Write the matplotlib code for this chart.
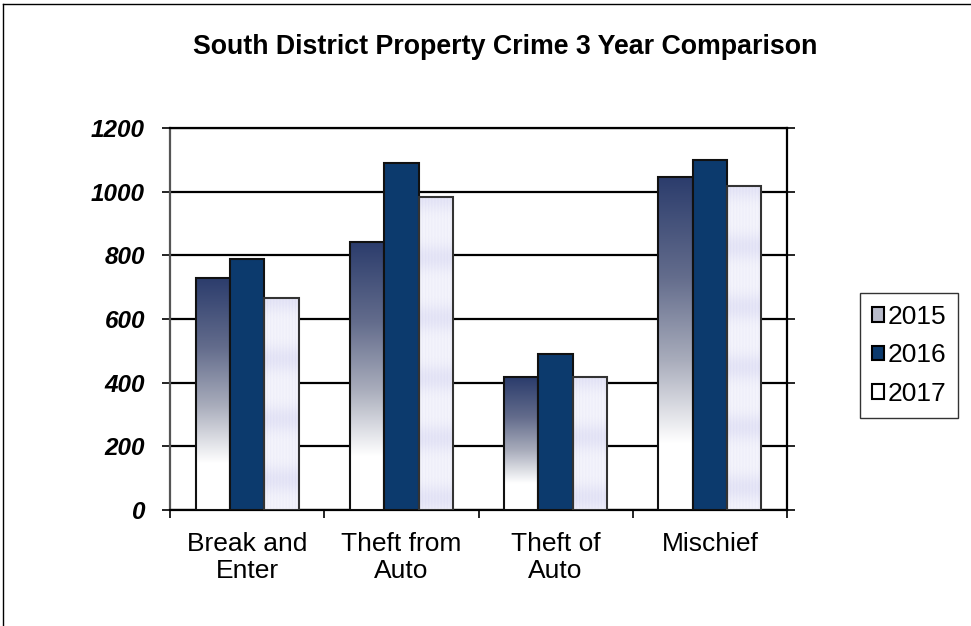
import numpy as np
import matplotlib
matplotlib.use("Agg")
import matplotlib.pyplot as plt
from matplotlib.colors import LinearSegmentedColormap
from matplotlib.patches import Patch
from matplotlib.lines import Line2D

plt.rcParams['font.family'] = ['Liberation Sans', 'DejaVu Sans']

# data
categories = ['Break and\nEnter', 'Theft from\nAuto', 'Theft of\nAuto', 'Mischief']
years = ['2015', '2016', '2017']
vals_2015 = [729, 843, 417, 1047]
vals_2016 = [790, 1091, 490, 1100]
vals_2017 = [665, 982, 419, 1017]
y_ticks = [0, 200, 400, 600, 800, 1000, 1200]

fig = plt.figure(figsize=(9.71, 6.26), dpi=100)
ax = fig.add_axes([170/971, 1 - 510/626, 617/971, 382/626])

x = np.arange(len(categories))
w = 0.2225

grad_cmap = LinearSegmentedColormap.from_list(
    'g15', [(0, '#2b3c6c'), (0.3, '#636c8c'), (0.55, '#a8acbb'),
            (0.8, '#ffffff'), (1, '#ffffff')])


def texture(nrows, ncols):
    # light lavender pinstripe / banded fill like the 2017 bars
    yy = np.arange(nrows).reshape(-1, 1)
    xx = np.arange(ncols).reshape(1, -1)
    stripes = 0.5 + 0.5 * np.cos(2 * np.pi * xx / 3.0)
    bands = 0.5 + 0.5 * np.cos(2 * np.pi * yy / 60.0)
    k = 0.08 + 0.07 * stripes + 0.12 * bands ** 2
    base = np.array([1.0, 1.0, 1.0])
    lav = np.array([0.55, 0.55, 0.85])
    img = base - k[..., None] * (base - lav)
    return np.clip(img, 0, 1)


b15 = ax.bar(x - w, vals_2015, w, facecolor='none', edgecolor='#111111',
             linewidth=1.5, zorder=4)
b16 = ax.bar(x, vals_2016, w, facecolor='#0c3a6d', edgecolor='#111111',
             linewidth=1.5, zorder=4)
b17 = ax.bar(x + w, vals_2017, w, facecolor='none', edgecolor='#333333',
             linewidth=1.5, zorder=4)

grad = np.linspace(0, 1, 256).reshape(-1, 1)
for bar in b15:
    x0, y0 = bar.get_x(), bar.get_y()
    im = ax.imshow(grad, cmap=grad_cmap, origin='upper', aspect='auto',
                   extent=(x0, x0 + bar.get_width(), y0, y0 + bar.get_height()),
                   zorder=3, interpolation='bilinear')
    im.set_clip_path(bar)

for bar in b17:
    x0, y0 = bar.get_x(), bar.get_y()
    h = bar.get_height()
    im = ax.imshow(texture(int(h * 0.318), 34), origin='upper', aspect='auto',
                   extent=(x0, x0 + bar.get_width(), y0, y0 + h),
                   zorder=3, interpolation='bilinear')
    im.set_clip_path(bar)

ax.set_xlim(-0.5, len(categories) - 0.5)
ax.set_ylim(0, 1200)
ax.set_yticks(y_ticks)
ax.set_yticklabels([str(t) for t in y_ticks], fontsize=17.5, fontweight='bold',
                   fontstyle='italic')
ax.yaxis.grid(True, color='black', linewidth=1.6, zorder=0)
ax.set_axisbelow(True)

ax.set_xticks(x)
ax.set_xticklabels(categories, fontsize=19, linespacing=1.12)
ax.set_xticks(np.arange(-0.5, len(categories), 1.0), minor=True)
ax.tick_params(axis='x', which='major', length=0, pad=16)
ax.tick_params(axis='x', which='minor', length=6, width=1.2, direction='out')
ax.tick_params(axis='y', which='major', length=6, width=1.2, direction='out',
               right=True, pad=12)

for side in ['top', 'right', 'bottom']:
    ax.spines[side].set_linewidth(1.6)
    ax.spines[side].set_color('black')
ax.spines['left'].set_linewidth(1.6)
ax.spines['left'].set_color('#555555')

fig.text(505/971, 1 - 47/626, 'South District Property Crime 3 Year Comparison',
         ha='center', va='center', fontsize=19.3, fontweight='bold')

handles = [Patch(facecolor='#b9bccb', edgecolor='black', linewidth=1.5),
           Patch(facecolor='#0c3a6d', edgecolor='black', linewidth=1.5),
           Patch(facecolor='white', edgecolor='black', linewidth=1.5)]
leg = fig.legend(handles, years, loc='upper left',
                 bbox_to_anchor=(860/971, 1 - 293/626), fontsize=19,
                 frameon=True, fancybox=False, edgecolor='black',
                 handlelength=0.45, handleheight=0.45, handletextpad=0.15,
                 labelspacing=0.55, borderpad=0.45, borderaxespad=0)
leg.get_frame().set_linewidth(1.0)

# outer chart frame
fig.add_artist(Line2D([3/971, 1], [1 - 4/626, 1 - 4/626], color='black',
                      linewidth=1.0, transform=fig.transFigure))
fig.add_artist(Line2D([3/971, 3/971], [0, 1 - 4/626], color='black',
                      linewidth=1.0, transform=fig.transFigure))

fig.savefig('out.png', dpi=100)
